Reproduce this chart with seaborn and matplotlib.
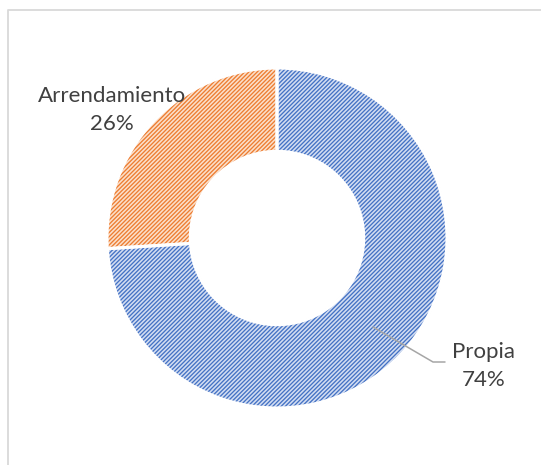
import matplotlib
matplotlib.use("Agg")
import matplotlib.pyplot as plt
import seaborn as sns

labels = ["Propia", "Arrendamiento"]
shares = [74, 26]
face_colors = ["#d3ddf2", "#fbdfca"]
hatch_colors = ["#4472c4", "#ed7d31"]

sns.set_theme(style="white")
plt.rcParams["font.family"] = ["Lato", "DejaVu Sans"]
plt.rcParams["hatch.linewidth"] = 0.95

H = 465
fig = plt.figure(figsize=(5.41, 4.65), dpi=100)
ax = fig.add_axes([0, 0, 1, 1])


def py(y):
    # pixel row (from top) to data y
    return H - y


# chart frame (right and bottom edges run off the picture)
ax.plot([7.5, 7.5, 545], [py(470), py(10.5), py(10.5)], color="#d9d9d9", lw=1.3)

center = (277, py(238))
radius = 170
ring = 0.49

wedges, _ = ax.pie(
    shares, startangle=90, counterclock=False, center=center, radius=radius,
    colors=face_colors, wedgeprops=dict(width=radius * ring, linewidth=0),
)
for w, hc in zip(wedges, hatch_colors):
    w.set_hatch("////////")
    w.set_edgecolor(hc)
    w.set_linewidth(0.8)

# white separators on top
ax.pie(
    shares, startangle=90, counterclock=False, center=center, radius=radius,
    colors=["none", "none"],
    wedgeprops=dict(width=radius * ring, linewidth=2.2, edgecolor="white", fill=False),
)
ax.set_xlim(0, 541)
ax.set_ylim(0, H)
ax.set_aspect("equal")
ax.axis("off")

txt = "#404040"
ax.text(112, py(110), f"{labels[1]}\n{shares[1]}%", ha="center", va="center",
        fontsize=16, color=txt, linespacing=1.55)
ax.text(484, py(366), f"{labels[0]}\n{shares[0]}%", ha="center", va="center",
        fontsize=16, color=txt, linespacing=1.55)
ax.plot([373, 433, 445], [py(327), py(362), py(362)], color="#a6a6a6", lw=1.1)

fig.savefig("out.png", dpi=100)
